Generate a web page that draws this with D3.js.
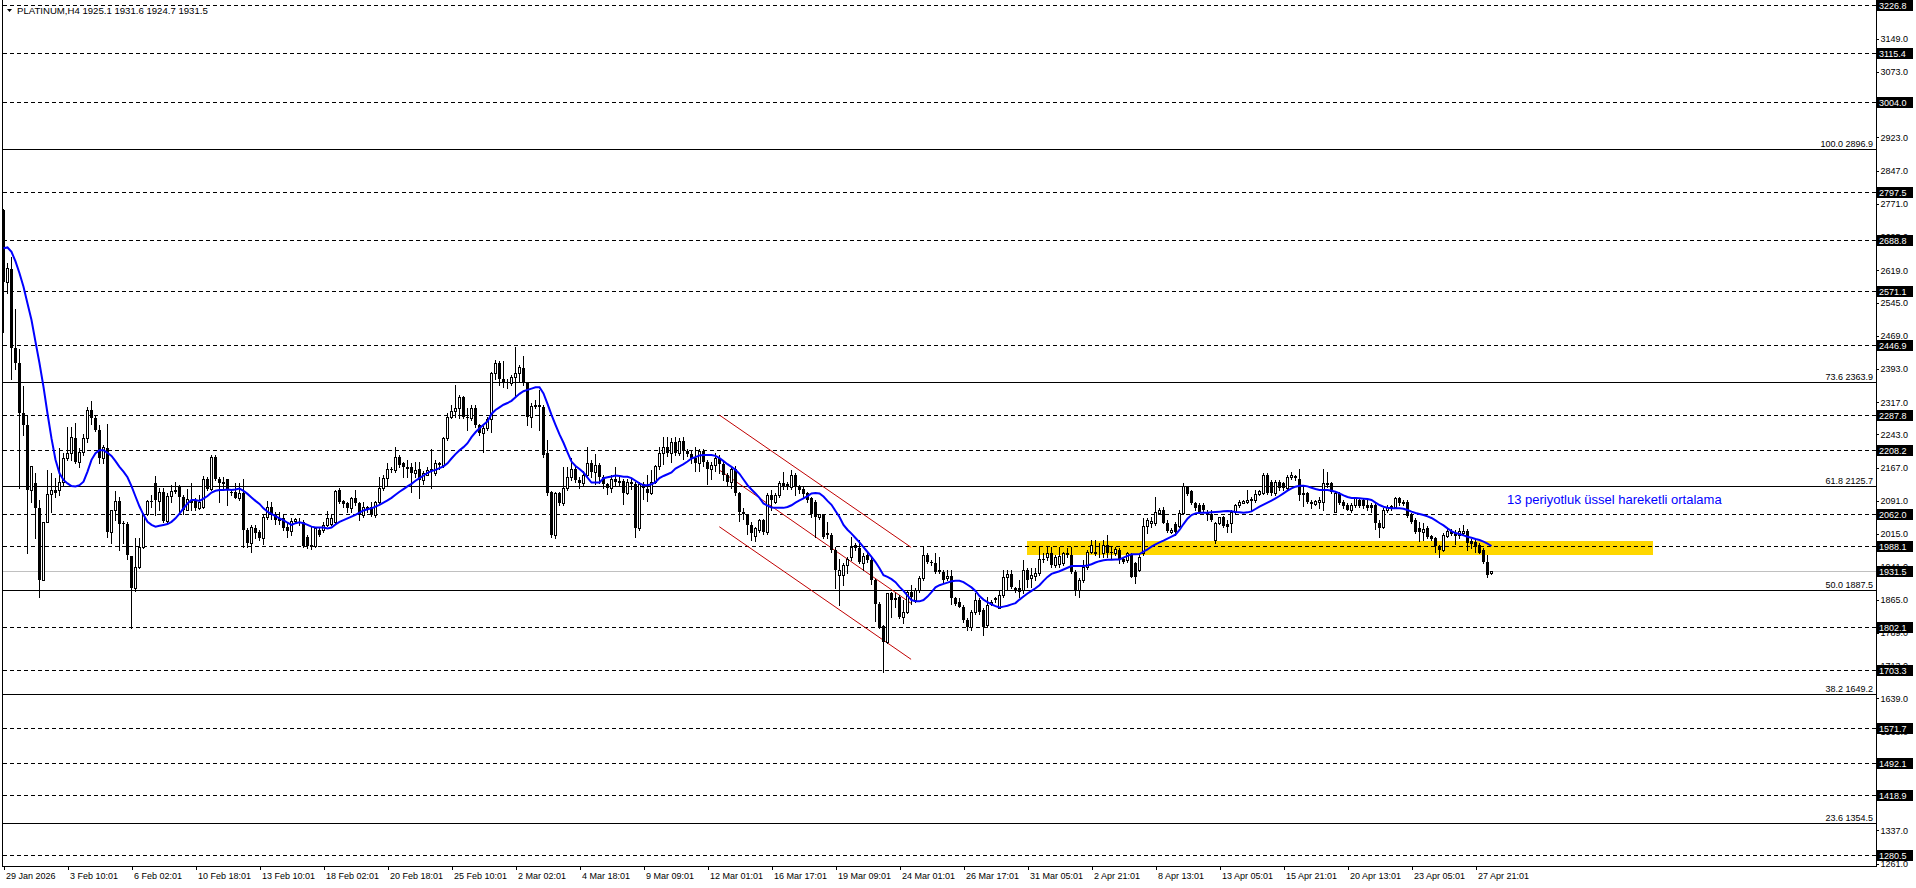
<!DOCTYPE html>
<html><head><meta charset="utf-8">
<script src="https://cdn.jsdelivr.net/npm/d3@7"></script>
<style>
html,body{margin:0;padding:0;background:#fff;overflow:hidden}
svg{display:block}
text{font-family:"Liberation Sans",Arial,sans-serif;font-size:9px}
</style></head><body>
<svg id="c" width="1916" height="888"></svg>
<script>
// ---- data (H4 bars) ----
const opens=[
2757,2593,2622,2442,2406,2291,2264,2116,2132,2074,
1911,2042,2106,2116,2116,2135,2190,2200,2234,2181,
2202,2234,2299,2280,2254,2188,2211,2020,2070,2091,
2041,2038,1965,1892,1939,1986,2062,2091,2132,2091,
2112,2045,2102,2113,2125,2100,2070,2094,2091,2074,
2077,2140,2119,2192,2142,2135,2140,2112,2112,2097,
2108,2024,1995,2028,2020,2005,2053,2077,2062,2051,
2051,2032,2023,2045,2043,2043,2009,1990,1988,2024,
2024,2036,2039,2043,2116,2091,2085,2074,2097,2087,
2058,2077,2077,2058,2089,2120,2143,2165,2162,2192,
2177,2169,2169,2154,2165,2139,2150,2162,2154,2177,
2173,2234,2284,2297,2303,2329,2284,2280,2303,2265,
2246,2257,2278,2383,2406,2371,2364,2360,2375,2384,
2394,2360,2284,2308,2310,2305,2200,2112,2013,2110,
2085,2120,2146,2165,2139,2131,2150,2177,2158,2173,
2146,2130,2121,2141,2134,2137,2110,2135,2130,2030,
2130,2118,2110,2135,2170,2200,2215,2200,2225,2200,
2227,2205,2198,2190,2178,2205,2180,2165,2172,2190,
2175,2150,2135,2165,2110,2065,2060,2036,2010,2024,
2047,2020,2104,2089,2104,2133,2129,2123,2150,2123,
2119,2108,2097,2089,2055,2058,2017,2013,1978,1921,
1921,1944,1963,1990,1982,1948,1967,1956,1910,1856,
1805,1769,1879,1868,1872,1826,1837,1883,1864,1887,
1914,1967,1952,1948,1933,1929,1914,1918,1868,1860,
1849,1818,1803,1837,1864,1841,1807,1856,1868,1845,
1875,1917,1923,1891,1891,1887,1933,1914,1918,1925,
1958,1963,1971,1944,1946,1948,1971,1967,1929,1887,
1910,1940,1975,1971,1971,1971,1990,1975,1971,1978,
1959,1956,1967,1949,1933,1971,2033,2040,2040,2064,
2070,2041,2020,2039,2033,2063,2123,2114,2087,2081,
2081,2066,2062,2001,2041,2053,2039,2040,2066,2081,
2087,2089,2093,2093,2107,2108,2150,2135,2108,2135,
2131,2120,2145,2146,2140,2110,2108,2089,2083,2089,
2089,2133,2131,2066,2108,2089,2081,2070,2081,2094,
2094,2081,2081,2081,2040,2032,2070,2079,2077,2097,
2089,2089,2061,2047,2028,2020,2028,2011,2005,1988,
1979,2010,2023,2018,2013,2017,2023,1999,1997,1990,
1979,1952,1925.1];
const highs=[
2760,2636,2650,2531,2438,2355,2287,2171,2155,2093,
2042,2161,2155,2144,2211,2200,2261,2261,2270,2213,
2245,2307,2320,2287,2264,2219,2266,2070,2113,2099,
2045,2043,1965,2005,2005,2064,2093,2104,2148,2120,
2120,2108,2127,2135,2127,2104,2119,2131,2097,2104,
2148,2146,2196,2196,2146,2146,2142,2116,2131,2131,
2140,2028,2036,2036,2024,2062,2091,2089,2066,2066,
2061,2041,2051,2051,2051,2047,2013,2033,2032,2032,
2043,2068,2062,2115,2120,2094,2089,2100,2117,2089,
2089,2080,2089,2091,2146,2150,2177,2169,2215,2196,
2181,2185,2177,2181,2181,2160,2169,2209,2185,2181,
2238,2291,2310,2356,2333,2331,2303,2310,2310,2268,
2262,2284,2387,2413,2410,2410,2370,2379,2444,2402,
2423,2364,2314,2322,2345,2310,2230,2114,2112,2112,
2169,2169,2188,2169,2146,2160,2215,2185,2198,2177,
2150,2131,2150,2168,2146,2140,2140,2140,2135,2135,
2135,2150,2162,2174,2215,2238,2238,2236,2238,2234,
2238,2210,2205,2215,2210,2210,2185,2180,2200,2196,
2180,2155,2170,2170,2112,2075,2062,2043,2032,2050,
2050,2108,2116,2110,2137,2158,2135,2162,2154,2127,
2123,2112,2100,2093,2062,2062,2043,2017,1986,1959,
1948,1963,2009,1994,2001,1971,1975,1960,1913,1860,
1807,1879,1883,1879,1876,1864,1887,1898,1891,1918,
1986,1971,1956,1971,1963,1933,1933,1933,1872,1868,
1852,1822,1841,1879,1868,1845,1872,1864,1872,1887,
1933,1933,1933,1895,1910,1956,1937,1937,1937,1986,
1971,1986,1986,1967,1986,1975,1982,1986,1933,1914,
1956,1978,2001,2001,1994,2001,2013,1986,1986,1982,
1963,1975,1971,1951,1967,2051,2051,2055,2099,2074,
2078,2047,2028,2043,2070,2131,2125,2116,2089,2085,
2085,2070,2070,2043,2055,2056,2047,2070,2083,2093,
2093,2116,2100,2116,2116,2154,2154,2139,2139,2139,
2135,2150,2156,2150,2165,2123,2112,2093,2094,2099,
2165,2158,2135,2112,2112,2093,2085,2085,2100,2097,
2097,2093,2085,2085,2047,2074,2081,2082,2100,2100,
2093,2093,2063,2051,2043,2040,2033,2013,2009,1990,
2017,2028,2026,2024,2028,2036,2026,2003,2001,1994,
1982,1967,1931.6];
const lows=[
2478,2567,2371,2392,2120,2242,1971,2089,2007,1872,
1911,2042,2066,2100,2104,2127,2184,2184,2177,2168,
2197,2226,2268,2252,2177,2178,2009,1995,2047,1978,
1995,1957,1801,1885,1937,1982,2058,2078,2058,2070,
2043,2040,2089,2108,2062,2062,2070,2070,2070,2072,
2074,2116,2116,2138,2089,2116,2081,2104,2097,2093,
1986,1986,1975,2007,2001,1993,2049,2049,2039,2039,
2024,2009,2013,2040,2036,1986,1982,1980,1986,2010,
2020,2033,2035,2039,2085,2077,2066,2066,2081,2047,
2055,2066,2056,2054,2087,2116,2124,2158,2158,2169,
2146,2146,2112,2146,2097,2130,2150,2120,2150,2165,
2169,2230,2280,2284,2280,2280,2253,2276,2261,2242,
2204,2253,2249,2371,2356,2352,2350,2356,2330,2364,
2356,2265,2261,2303,2253,2192,2104,2008,2005,2081,
2081,2116,2139,2135,2120,2125,2146,2146,2130,2133,
2120,2107,2112,2125,2125,2083,2106,2118,2009,2024,
2095,2090,2107,2131,2165,2176,2193,2180,2196,2195,
2187,2193,2178,2160,2160,2170,2130,2140,2160,2155,
2138,2125,2120,2105,2045,2050,2015,2001,2000,2020,
2015,2015,2070,2085,2100,2119,2119,2119,2104,2110,
2100,2089,2055,2009,2050,2005,2005,1975,1891,1853,
1898,1925,1956,1978,1948,1933,1952,1900,1815,1800,
1700,1765,1826,1849,1822,1811,1834,1856,1860,1883,
1910,1948,1944,1925,1925,1906,1910,1856,1853,1847,
1814,1795,1795,1833,1833,1784,1803,1853,1860,1845,
1872,1887,1891,1883,1872,1879,1895,1895,1910,1921,
1952,1956,1940,1940,1940,1944,1963,1925,1876,1872,
1906,1936,1971,1967,1963,1963,1963,1959,1967,1948,
1948,1952,1917,1904,1931,1967,2017,2032,2036,2062,
2040,2020,2017,2013,2032,2062,2104,2083,2070,2063,
2066,2047,2046,1994,2039,2032,2020,2020,2062,2077,
2085,2087,2070,2089,2104,2107,2107,2104,2104,2116,
2116,2116,2141,2139,2093,2079,2085,2074,2081,2074,
2070,2123,2108,2066,2083,2074,2070,2066,2077,2077,
2074,2070,2066,2026,2009,2030,2066,2070,2074,2081,
2081,2055,2040,2017,2000,2001,2007,2001,1975,1963,
1977,2009,2012,1992,2007,2015,1978,1982,1975,1971,
1948,1917,1924.7];
const closes=[
2593,2623,2442,2406,2291,2264,2116,2171,2074,1911,
2042,2106,2116,2110,2135,2190,2200,2238,2181,2202,
2234,2299,2280,2254,2188,2215,2020,2070,2091,2039,
2038,1968,1892,1939,1986,2062,2091,2089,2093,2112,
2045,2102,2113,2116,2100,2070,2096,2087,2074,2089,
2140,2119,2192,2142,2131,2129,2116,2108,2097,2108,
2024,1995,2032,2018,2005,2053,2077,2058,2047,2045,
2028,2023,2045,2049,2040,1988,1988,1986,2028,2013,
2036,2051,2051,2113,2089,2083,2074,2097,2085,2058,
2077,2070,2058,2089,2120,2143,2165,2162,2192,2173,
2169,2165,2154,2162,2139,2154,2162,2165,2177,2173,
2234,2284,2297,2303,2329,2284,2280,2303,2265,2246,
2257,2278,2383,2406,2371,2360,2360,2375,2384,2398,
2360,2284,2308,2310,2305,2196,2108,2013,2108,2085,
2120,2146,2165,2139,2131,2150,2177,2158,2173,2146,
2130,2121,2141,2134,2137,2110,2135,2130,2030,2130,
2120,2108,2135,2170,2200,2215,2200,2225,2200,2227,
2205,2198,2190,2178,2205,2180,2165,2172,2190,2175,
2150,2135,2165,2110,2065,2060,2036,2017,2028,2047,
2020,2104,2093,2104,2133,2123,2123,2150,2123,2116,
2106,2094,2062,2055,2060,2009,2013,1978,1933,1933,
1944,1959,1986,1982,1952,1965,1956,1910,1856,1803,
1769,1879,1864,1864,1826,1837,1883,1872,1887,1914,
1967,1952,1948,1929,1929,1910,1918,1868,1856,1849,
1818,1803,1837,1864,1837,1803,1853,1860,1864,1875,
1917,1923,1895,1887,1883,1933,1910,1921,1925,1958,
1956,1971,1944,1963,1965,1971,1967,1929,1887,1910,
1940,1975,1990,1975,1971,1990,1971,1971,1980,1956,
1952,1971,1917,1917,1963,2033,2047,2045,2066,2070,
2041,2022,2024,2020,2063,2125,2107,2085,2074,2066,
2070,2059,2047,2041,2053,2033,2032,2066,2081,2089,
2090,2092,2096,2107,2114,2150,2108,2108,2135,2120,
2120,2145,2150,2148,2104,2104,2089,2083,2091,2094,
2133,2127,2112,2108,2085,2079,2071,2081,2097,2079,
2079,2074,2074,2040,2028,2070,2078,2074,2097,2085,
2083,2056,2043,2020,2020,2026,2009,2003,1988,1979,
2014,2023,2015,2010,2023,2023,1995,1992,1986,1972,
1952,1921,1931.5];
// 13-period exponential moving average
const emaValues=[
2669,2671,2661,2639,2612,2581,2543,2505,2455,2406,
2352,2291,2234,2185,2154,2139,2131,2125,2124,2127,
2135,2158,2185,2200,2207,2207,2201,2194,2182,2169,
2158,2145,2125,2101,2078,2059,2043,2036,2032,2034,
2036,2038,2043,2051,2062,2074,2085,2093,2093,2091,
2096,2102,2110,2114,2116,2116,2117,2116,2117,2119,
2114,2107,2099,2091,2084,2074,2066,2061,2056,2051,
2047,2041,2036,2040,2042,2040,2036,2032,2030,2030,
2030,2028,2030,2037,2043,2047,2051,2055,2059,2064,
2069,2072,2074,2078,2082,
2087,2092,2098,2105,2112,2118,2124,2130,2137,2143,
2149,2155,2159,2162,2166,2170,2177,2188,2198,2207,
2214,2223,2237,2248,2257,2265,2273,2290,2299,2305,
2311,2315,2320,2328,2336,2342,2345,2348,2351,2351,
2337,2313,2288,2265,2243,2224,2202,2181,2171,2164,
2156,2144,2133,2133,2133,2143,2145,2147,2149,2148,
2146,2146,2143,2137,2131,2127,2127,2129,2134,2143,
2148,2152,2156,2165,2170,2175,2181,2188,2191,2195,
2196,2196,2196,2194,2189,2182,2175,2169,2162,2153,
2140,2127,
2117,2108,2098,2085,2080,2076,2075,2075,2075,2077,
2081,2087,2092,2097,2102,2108,2109,2108,2101,2091,
2082,2068,2054,2036,2025,2016,2006,1996,1985,1974,
1963,1951,1937,1921,1917,1912,1905,1894,1885,1874,
1864,1861,1861,1864,1872,1882,1893,1898,1901,1904,
1907,1908,1908,1905,1899,1893,1885,1873,1865,1859,
1854,1850,1847,1849,1851,1854,1857,1865,1872,1879,
1885,1891,1898,1908,1917,1924,1927,1930,1934,1938,
1942,1942,1942,1942,1943,1946,1950,1953,1955,1956,
1956,1957,1957,1961,1965,
1968.6,1968.6,1969.4,1974.7,1980,1986.1,1991.5,1996.1,1999.9,2004.4,
2009,2013.6,2024.3,2038,2050.2,2058.6,2062.4,2064,2064,2064,
2064.7,2065.5,2066.3,2067,2067.8,2067,2065.5,2064.7,2064,2064.7,
2067,2072.4,2077.7,2082.3,2086.9,2091.6,2096.8,2102.1,2108.2,2114.3,
2119.7,2123.5,2125.8,2125.8,2124.2,2121.2,2118.1,2115.9,2115.9,2115.9,
2114.3,2112,2108.2,2103.6,2099.8,2097.5,2097.5,2096.8,2096,2095.2,
2093,2086.9,2081.5,2077.7,2075.4,2073.9,2073.9,2073.9,2073.1,2070.1,
2066.3,2063.2,2060.9,2058.6,2055.6,2051.8,2046.4,2040.3,2035,2028.1,
2022,2017.4,2015.1,2012.1,2009,2006.7,2003.7,2001.4,1997.6,1993,
1987.7];
const timeLabels=["29 Jan 2026","3 Feb 10:01","6 Feb 02:01","10 Feb 18:01","13 Feb 10:01","18 Feb 02:01","20 Feb 18:01","25 Feb 10:01","2 Mar 02:01","4 Mar 18:01","9 Mar 09:01","12 Mar 01:01","16 Mar 17:01","19 Mar 09:01","24 Mar 01:01","26 Mar 17:01","31 Mar 05:01","2 Apr 21:01","8 Apr 13:01","13 Apr 05:01","15 Apr 21:01","20 Apr 13:01","23 Apr 05:01","27 Apr 21:01"];
const timeLabelBars=[0,16,32,48,64,80,96,112,128,144,160,176,192,208,224,240,256,272,288,304,320,336,352,368];
const priceTicks=[3149,3073,2997,2923,2847,2771,2695,2619,2545,2469,2393,2317,2243,2167,2091,2015,1941,1865,1789,1713,1639,1563,1487,1411,1337,1261];
const levelLines=[3226.8,3115.4,3004.0,2797.5,2688.8,2571.1,2446.9,2287.8,2208.2,2062.0,1988.1,1802.1,1703.3,1571.7,1492.1,1418.9,1280.5];
const fibLevels=["100.0","73.6","61.8","50.0","38.2","23.6"];
const fibPrices=[2896.9,2363.9,2125.7,1887.5,1649.2,1354.5];
const lastPrice=1931.5;
const headerText="PLATINUM,H4  1925.1 1931.6 1924.7 1931.5";
const noteText="13 periyotluk üssel hareketli ortalama";
const zonePrices=[1999.0,1967.5];
const zoneBars=[255.8,412.4];
const channelBars=[178.95,226.9];
const channelUpper=[2287.5,1984.7];
const channelMiddle=[2161.6,1856.5];
const channelLower=[2031.8,1728.3];

// ---- drawing ----
const svg=d3.select('#c');
const plotL=2.5, plotR=1875.5, plotB=866.5;
const x=d3.scaleLinear().domain([0,372]).range([3.5,1491.5]);
const y=d3.scaleLinear().domain([1255.3,3237.4]).range([866,0]);
const py=p=>Math.round(y(p))+0.5;

// yellow zone (background)
svg.append('rect').attr('x',Math.round(x(zoneBars[0]))).attr('y',Math.round(y(zonePrices[0])))
  .attr('width',Math.round(x(zoneBars[1]))-Math.round(x(zoneBars[0])))
  .attr('height',Math.round(y(zonePrices[1]))-Math.round(y(zonePrices[0])))
  .attr('fill','#FFD700');

const lines=svg.append('g').attr('shape-rendering','crispEdges');
lines.selectAll('line.lvl').data(levelLines).join('line').attr('class','lvl')
  .attr('x1',plotL).attr('x2',plotR).attr('y1',py).attr('y2',py)
  .attr('stroke','#000').attr('stroke-dasharray','4,3');
lines.selectAll('line.fib').data(fibPrices).join('line').attr('class','fib')
  .attr('x1',plotL).attr('x2',plotR).attr('y1',py).attr('y2',py).attr('stroke','#000');
lines.append('line').attr('x1',plotL).attr('x2',plotR).attr('y1',py(lastPrice)).attr('y2',py(lastPrice)).attr('stroke','#c0c0c0');

// fib labels
svg.selectAll('text.fibl').data(fibPrices).join('text').attr('class','fibl')
  .attr('x',1873).attr('y',d=>Math.round(y(d))-2).attr('text-anchor','end').attr('fill','#000')
  .text((d,i)=>fibLevels[i]+' '+d.toFixed(1));

// channel
const chan=[channelUpper,channelMiddle,channelLower];
svg.selectAll('line.ch').data(chan).join('line').attr('class','ch')
  .attr('x1',x(channelBars[0])).attr('x2',x(channelBars[1]))
  .attr('y1',d=>y(d[0])).attr('y2',d=>y(d[1]))
  .attr('stroke','#C00000').attr('stroke-width',1);

// candles
const idx=d3.range(closes.length);
const cg=svg.append('g').attr('shape-rendering','crispEdges');
cg.selectAll('line.wick').data(idx).join('line').attr('class','wick')
  .attr('x1',i=>x(i)).attr('x2',i=>x(i))
  .attr('y1',i=>Math.round(y(highs[i]))).attr('y2',i=>Math.round(y(lows[i]))+1)
  .attr('stroke','#000');
cg.selectAll('rect.body').data(idx).join('rect').attr('class','body')
  .each(function(i){
    const s=d3.select(this);
    const yo=Math.round(y(opens[i])), yc=Math.round(y(closes[i]));
    const top=Math.min(yo,yc), bot=Math.max(yo,yc);
    if(closes[i]>=opens[i]){
      s.attr('x',x(i)-1).attr('y',top+0.5).attr('width',2).attr('height',Math.max(bot-top,0))
       .attr('fill','#fff').attr('stroke','#000');
    } else {
      s.attr('x',x(i)-1.5).attr('y',top).attr('width',3).attr('height',Math.max(bot-top,1))
       .attr('fill','#000');
    }
  });

// EMA
svg.append('path').datum(emaValues)
  .attr('d',d3.line().x((d,i)=>x(i)).y(d=>y(d)))
  .attr('fill','none').attr('stroke','#0000FF').attr('stroke-width',2);

// frame
const fr=svg.append('g').attr('shape-rendering','crispEdges');
fr.append('line').attr('x1',plotL).attr('x2',plotL).attr('y1',0).attr('y2',plotB).attr('stroke','#000');

// right axis
const ay=svg.append('g').attr('transform',`translate(${plotR},0)`)
  .call(d3.axisRight(y).tickValues(priceTicks).tickSize(3).tickPadding(2).tickFormat(d=>d.toFixed(1)));
ay.select('.domain').attr('d',`M0.5,0V${plotB}`).attr('shape-rendering','crispEdges');
ay.selectAll('.tick line').attr('shape-rendering','crispEdges');
ay.attr('font-family','"Liberation Sans",Arial,sans-serif').attr('font-size',9);

// bottom axis
const ax=svg.append('g').attr('transform',`translate(0,${plotB-0.5})`)
  .call(d3.axisBottom(x).tickValues(timeLabelBars).tickSize(4).tickPadding(3).tickFormat((d,i)=>timeLabels[i]));
ax.select('.domain').attr('d',`M${plotL},0.5H${plotR}`).attr('shape-rendering','crispEdges');
ax.selectAll('.tick line').attr('shape-rendering','crispEdges');
ax.selectAll('.tick text').attr('text-anchor','start').attr('x',2).attr('dy','0.71em');
ax.attr('font-family','"Liberation Sans",Arial,sans-serif').attr('font-size',9);

// price boxes
const boxes=levelLines.concat([lastPrice]);
const bg=svg.append('g');
bg.selectAll('rect').data(boxes).join('rect')
  .attr('x',1877).attr('y',d=>Math.round(y(d))-5).attr('width',36).attr('height',11).attr('fill','#000')
  .attr('shape-rendering','crispEdges');
bg.selectAll('text').data(boxes).join('text')
  .attr('x',1879).attr('y',d=>Math.round(y(d))+3.5).attr('fill','#fff').text(d=>d.toFixed(1));

// header
svg.append('path').attr('d','M7,9 L12,9 L9.5,12 Z').attr('fill','#000');
svg.append('text').attr('x',17).attr('y',14).attr('fill','#000').style('font-size','9.6px').text(headerText);
// note
svg.append('text').attr('x',1507).attr('y',504).attr('fill','#0000FF').style('font-size','13px').text(noteText);
</script>
</body></html>
